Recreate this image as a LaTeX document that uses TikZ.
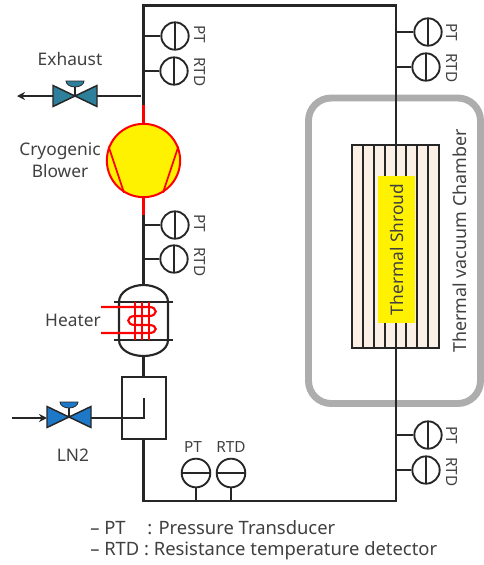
\documentclass[tikz,border=0pt]{standalone}
\usepackage{fontspec}
\setmainfont{Noto Sans}
\usetikzlibrary{arrows.meta}
\definecolor{loopline}{HTML}{262626}
\definecolor{chambergray}{HTML}{ADADAD}
\definecolor{shroudfill}{HTML}{FAF0E6}
\definecolor{exhaustblue}{HTML}{2E7F9B}
\definecolor{lntwoblue}{HTML}{1E78C8}
\tikzset{
  pipe/.style={draw=loopline,line width=1.6pt},
  hotpipe/.style={draw=red,line width=1.6pt},
  label/.style={font=\fontsize{13}{16.5}\selectfont,text=black!75,inner sep=0pt},
  smalllabel/.style={font=\fontsize{11.5}{13}\selectfont,text=black!75,inner sep=0pt},
  gaugev/.style={circle,draw=loopline,line width=1.4pt,minimum size=20.5pt,inner sep=0pt,
    path picture={\draw[loopline,line width=1.4pt] (path picture bounding box.north) -- (path picture bounding box.south);}},
  gaugeh/.style={circle,draw=loopline,line width=1.4pt,minimum size=21.5pt,inner sep=0pt,
    path picture={\draw[loopline,line width=1.4pt] (path picture bounding box.west) -- (path picture bounding box.east);}},
  valve/.pic={
    \coordinate (-l) at (-22,0);
    \coordinate (-r) at (22,0);
    \draw[draw=loopline,line width=1.1pt,fill=#1] (-22,-10.5) -- (22,10.5) -- (22,-10.5) -- (-22,10.5) -- cycle;
    \draw[draw=loopline,line width=1.1pt] (0,0) -- (0,-15);
    \fill[#1,draw=loopline,line width=.6pt] (-9,-15) arc[start angle=180,end angle=0,x radius=9,y radius=6] -- cycle;
  }
}
\begin{document}
\begin{tikzpicture}[x=0.75pt,y=-0.75pt]
  \useasboundingbox (0,0) rectangle (484,565);
  % chamber and shroud
  \draw[chambergray,line width=5.2pt,rounded corners=17pt] (308.5,98) rectangle (480.5,403.5);
  \node[draw=loopline,line width=1.3pt,fill=shroudfill,minimum width=65pt,minimum height=152pt,inner sep=0pt] (shroud) at (395.5,246.5) {};
  \foreach \x in {363,374,385,396,406,417,428}
    \draw[pipe,line width=1.2pt] (\x,145) -- (\x,348);
  \node[fill=yellow,minimum width=28pt,minimum height=110pt,inner sep=0pt] (hotzone) at (396.5,249.5) {};
  \node[label,rotate=90] (shroudlabel) at (396.5,249.5) {Thermal Shroud};
  \node[label,font=\fontsize{13.4}{16}\selectfont,rotate=90] (chamberlabel) at (460,241) {Thermal vacuum Chamber};

  % main loop
  \coordinate (corner1) at (143.5,5.5);
  \coordinate (corner2) at (396,5.5);
  \coordinate (corner3) at (396,501);
  \coordinate (corner4) at (143.5,501);
  \node[circle,draw=red,line width=1.5pt,fill=yellow,minimum size=55pt,inner sep=0pt] (blower) at (143.5,160.5) {};
  \draw[hotpipe,line width=1.3pt] (blower.158) -- (blower.-121);
  \draw[hotpipe,line width=1.3pt] (blower.22) -- (blower.-59);
  \coordinate (split) at (143.5,105);
  \coordinate (join) at (143.5,215);
  \node[draw=loopline,line width=1.5pt,minimum width=33pt,minimum height=46pt,inner sep=0pt] (lnbox) at (143.5,408) {};
  \coordinate (heatertop) at (143.5,285);
  \coordinate (heaterbot) at (143.5,356);
  \draw[pipe] (split) |- (corner2) -- (shroud.north -| corner2);
  \draw[hotpipe] (split) -- (blower.north);
  \draw[hotpipe] (blower.south) -- (join);
  \draw[pipe] (join) -- (heatertop);
  \draw[pipe] (heaterbot) -- (lnbox.north);
  \draw[pipe] (lnbox.south) |- (corner3) -- (shroud.south -| corner3);

  % heater
  \draw[pipe] (119,302) .. controls (119,292) and (131,285) .. (heatertop) .. controls (156,285) and (168,292) .. (168,302) -- (168,340)
    .. controls (168,350) and (156,356) .. (heaterbot) .. controls (131,356) and (119,350) .. (119,340) -- cycle;
  \draw[pipe] (114,302) -- (173,302);
  \draw[pipe] (114,340) -- (173,340);
  \foreach \x in {135,142,149}
    \draw[hotpipe] (\x,302) -- (\x,340);
  \draw[hotpipe] (101,307) -- (149,307) .. controls (158,307) and (158,316) .. (149,316) -- (135,316)
    .. controls (126,316) and (126,325) .. (135,325) -- (149,325) .. controls (158,325) and (158,333) .. (149,333) -- (101,333);
  \node[label] (heaterlabel) at (73,320) {Heater};

  % valves
  \pic (exhaustv) at (75,96) {valve=exhaustblue};
  \pic (lnv) at (69,417) {valve=lntwoblue};
  \coordinate (ventend) at (17,96);
  \coordinate (lnstart) at (12,418);
  \coordinate (lnturn) at (144,418);
  \coordinate (lntip) at (144,398);
  \draw[pipe,-{Stealth[length=6pt,width=6pt]}] (exhaustv-l) -- (ventend);
  \draw[pipe] (exhaustv-r) -- (141,96);
  \draw[pipe,-{Stealth[length=6pt,width=6pt]}] (lnstart) -- (lnv-l |- lnstart);
  \draw[pipe] (lnv-r |- lnstart) -- (lnturn) -- (lntip);
  \node[label] (exhaustlabel) at (70,59) {Exhaust};
  \node[label,align=center] (blowerlabel) at (60,160) {Cryogenic\\Blower};
  \node[label] (lnlabel) at (73,455) {LN2};

  % sensors
  \foreach \name/\x/\y/\txt/\ly in {ptA/175/36/PT/34, rtdA/174/71/RTD/72, ptB/175/225/PT/223, rtdB/174/259/RTD/262}{
    \node[gaugev] (\name) at (\x,\y) {};
    \draw[pipe] (\name.west) -- (\name.west -| corner1);
    \node[smalllabel,rotate=-90] (\name label) at (200,\ly) {\txt};
  }
  \foreach \name/\x/\y/\txt/\ly in {ptC/428/32/PT/32, rtdC/426/67/RTD/68, ptD/428/435/PT/435, rtdD/426/470/RTD/472}{
    \node[gaugev] (\name) at (\x,\y) {};
    \draw[pipe] (\name.west) -- (\name.west -| corner2);
    \node[smalllabel,rotate=-90] (\name label) at (452,\ly) {\txt};
  }
  \foreach \name/\x/\lx/\txt in {ptE/196/193/PT, rtdE/231/231/RTD}{
    \node[gaugeh] (\name) at (\x,473) {};
    \draw[pipe] (\name.south) -- (\name.south |- corner4);
    \node[smalllabel] (\name label) at (\lx,447) {\txt};
  }

  % legend
  \node[label,font=\fontsize{13.8}{16}\selectfont,anchor=west] (legendA) at (90,528) {– PT};
  \node[label,font=\fontsize{13.8}{16}\selectfont,anchor=west] (legendAtext) at (147,528) {: Pressure Transducer};
  \node[label,font=\fontsize{13.8}{16}\selectfont,anchor=west] (legendB) at (90,551) {– RTD : Resistance temperature detector};
\end{tikzpicture}
\end{document}
